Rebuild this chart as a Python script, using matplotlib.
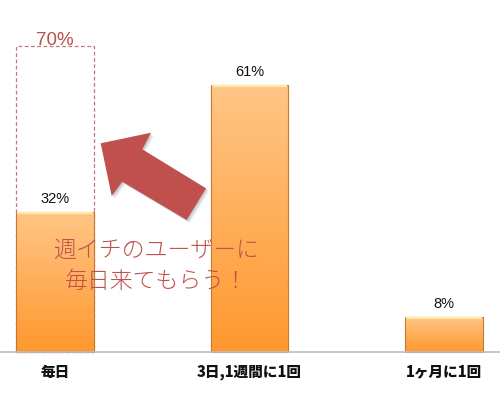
import numpy as np
import matplotlib
matplotlib.use("Agg")
import matplotlib.pyplot as plt
from matplotlib.colors import LinearSegmentedColormap
from matplotlib.patches import Polygon

plt.rcParams["font.family"] = ["Noto Sans CJK JP", "DejaVu Sans"]

# data
categories = ["毎日", "3日,1週間に1回", "1ヶ月に1回"]
values = [32, 61, 8]
target = 70  # goal for 毎日
message = "週イチのユーザーに\n毎日来てもらう！"

RED = "#C0504D"
W, H = 500, 397

fig = plt.figure(figsize=(W / 100, H / 100), dpi=100)
ax = fig.add_axes([0, 0, 1, 1])
ax.set_xlim(-0.283, 2.288)
ax.set_ylim(-10.3, 80.4)
ax.axis("off")

x = np.arange(len(categories))
bw = 0.4

# target box (dashed)
ax.bar(x[0], target, width=bw, fill=False, edgecolor="#C97774",
       linestyle=(0, (3, 2)), linewidth=0.9, zorder=2)
ax.text(x[0], target + 0.1, f"{target}%", ha="center", va="baseline",
        color="#B8504D", fontsize=13.5, family=["Liberation Sans"], zorder=5)

# orange bars with gradient
bars = ax.bar(x, values, width=bw, color="none", edgecolor="#C8782E",
              linewidth=0.8, zorder=4)
cmap = LinearSegmentedColormap.from_list("org", ["#FF982E", "#FFC687"])
grad = np.linspace(0, 1, 256).reshape(-1, 1)
for b, v in zip(bars, values):
    x0 = b.get_x()
    im = ax.imshow(grad, cmap=cmap, origin="lower", aspect="auto",
                   extent=[x0, x0 + bw, 0, v], zorder=3)
    im.set_clip_path(b)
    # light highlight on top edge
    ax.plot([x0 + 0.005, x0 + bw - 0.005], [v - 0.25, v - 0.25],
            color="#FFE7A6", linewidth=1.6, zorder=4.5, solid_capstyle="butt")
    ax.text(x0 + bw / 2, v + 1.3, f"{v}%", ha="center", va="bottom",
            fontsize=10.5, family=["Liberation Sans"], color="#111111", zorder=5)

# baseline
ax.axhline(0, color="#BDBDBD", linewidth=1.2, zorder=5)

# category labels
for xi, c in zip(x, categories):
    ax.text(xi, -4.6, c, ha="center", va="center", fontsize=10.5,
            fontweight="heavy", color="#111111")

# big arrow (pixel coords -> figure fraction)
arrow_px = [(100.7, 143.3), (151, 132.7), (142.3, 149.3), (206, 188.3),
            (186.7, 220), (122.3, 181.7), (111.7, 196)]
pts = [(px / W, 1 - py / H) for px, py in arrow_px]
for off, a in [(3, 0.10), (2, 0.12), (1, 0.14)]:
    sh = [(px + off / W, py - off / H) for px, py in pts]
    fig.add_artist(Polygon(sh, closed=True, transform=fig.transFigure,
                           facecolor="#555555", edgecolor="none", alpha=a,
                           zorder=6))
fig.add_artist(Polygon(pts, closed=True, transform=fig.transFigure,
                       facecolor=RED, edgecolor="none", zorder=7))

fig.text(156 / W, 1 - 266 / H, message, ha="center", va="center",
         color=RED, fontsize=16.5, fontweight="light", linespacing=1.3,
         zorder=8)

fig.savefig("out.png", dpi=100)
